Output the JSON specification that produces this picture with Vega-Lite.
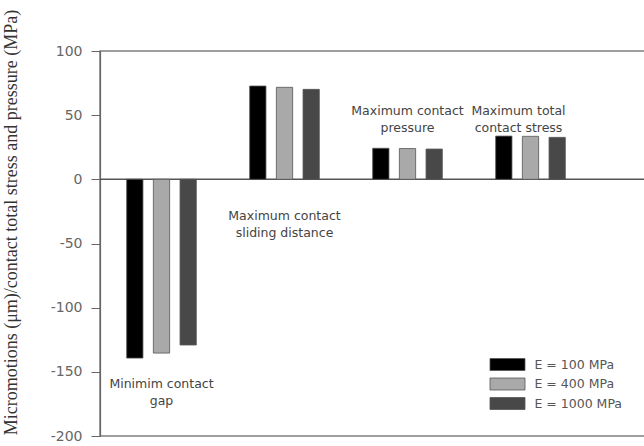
{
  "$schema": "https://vega.github.io/schema/vega-lite/v6.json",
  "width": 560,
  "height": 385,
  "autosize": {"type": "none"},
  "padding": {"left": 100, "top": 51, "right": 0, "bottom": 10},
  "background": "white",
  "config": {"view": {"stroke": "#808080", "strokeWidth": 1.5}, "font": "DejaVu Sans"},
  "datasets": {
    "bars": [
      {"measure": "Minimim contact gap", "E": "E = 100 MPa", "value": -139.3},
      {"measure": "Minimim contact gap", "E": "E = 400 MPa", "value": -135.4},
      {"measure": "Minimim contact gap", "E": "E = 1000 MPa", "value": -129.1},
      {"measure": "Maximum contact sliding distance", "E": "E = 100 MPa", "value": 72.7},
      {"measure": "Maximum contact sliding distance", "E": "E = 400 MPa", "value": 71.7},
      {"measure": "Maximum contact sliding distance", "E": "E = 1000 MPa", "value": 70.1},
      {"measure": "Maximum contact pressure", "E": "E = 100 MPa", "value": 24.2},
      {"measure": "Maximum contact pressure", "E": "E = 400 MPa", "value": 24.0},
      {"measure": "Maximum contact pressure", "E": "E = 1000 MPa", "value": 23.6},
      {"measure": "Maximum total contact stress", "E": "E = 100 MPa", "value": 33.7},
      {"measure": "Maximum total contact stress", "E": "E = 400 MPa", "value": 33.5},
      {"measure": "Maximum total contact stress", "E": "E = 1000 MPa", "value": 32.7}
    ],
    "labels": [
      {"measure": "Minimim contact gap", "label": "Minimim contact\ngap", "at": -159.2},
      {"measure": "Maximum contact sliding distance", "label": "Maximum contact\nsliding distance", "at": -28.7},
      {"measure": "Maximum contact pressure", "label": "Maximum contact\npressure", "at": 53.2},
      {"measure": "Maximum total contact stress", "label": "Maximum total\ncontact stress", "at": 53.2}
    ]
  },
  "layer": [
    {
      "data": {"values": [{"y": 0}]},
      "mark": {"type": "rule", "color": "#555", "strokeWidth": 1.5},
      "encoding": {"y": {"field": "y", "type": "quantitative"}}
    },
    {
      "data": {"name": "bars"},
      "mark": {"type": "bar", "stroke": "#555", "strokeWidth": 0.8},
      "encoding": {
        "x": {
          "field": "measure", "type": "nominal",
          "sort": ["Minimim contact gap", "Maximum contact sliding distance", "Maximum contact pressure", "Maximum total contact stress"],
          "scale": {"range": [0, 492], "paddingInner": 0, "paddingOuter": 0},
          "axis": null
        },
        "xOffset": {
          "field": "E", "type": "nominal",
          "sort": ["E = 100 MPa", "E = 400 MPa", "E = 1000 MPa"],
          "scale": {"paddingInner": 0.39, "paddingOuter": 1}
        },
        "y": {
          "field": "value", "type": "quantitative",
          "scale": {"domain": [-200, 100], "nice": false, "zero": false},
          "axis": {
            "values": [-200, -150, -100, -50, 0, 50, 100],
            "labelExpr": "replace(datum.label, '−', '-')",
            "tickSize": 9, "tickColor": "#666", "domainColor": "#666", "domainWidth": 1.2,
            "labelFont": "DejaVu Sans", "labelFontSize": 14, "labelColor": "#666", "labelPadding": 9,
            "grid": false,
            "title": "Micromotions (μm)/contact total stress and pressure (MPa)",
            "titleFont": "Liberation Serif", "titleFontSize": 18, "titleFontWeight": "normal", "titleColor": "#333",
            "titleX": -89, "titleY": 171, "titleAngle": -90, "titleAlign": "center", "titleBaseline": "middle"
          }
        },
        "color": {
          "field": "E", "type": "nominal",
          "scale": {"domain": ["E = 100 MPa", "E = 400 MPa", "E = 1000 MPa"], "range": ["#000000", "#a9a9a9", "#484848"]},
          "legend": {
            "title": null, "orient": "none", "legendX": 401, "legendY": 307,
            "symbolType": "M-2.917,-1H2.917V1H-2.917Z", "symbolSize": 144,
            "symbolStrokeColor": "#555", "symbolStrokeWidth": 0.8, "symbolOpacity": 1,
            "labelFont": "DejaVu Sans", "labelFontSize": 12.5, "labelColor": "#555",
            "labelOffset": 20.5, "rowPadding": 2.5, "padding": 0
          }
        }
      }
    },
    {
      "data": {"name": "labels"},
      "transform": [{"filter": "datum.measure != 'Maximum total contact stress'"}],
      "mark": {"type": "text", "lineBreak": "\n", "fontSize": 12.5, "color": "#444", "baseline": "middle", "lineHeight": 17},
      "encoding": {
        "x": {"field": "measure", "type": "nominal", "sort": ["Minimim contact gap", "Maximum contact sliding distance", "Maximum contact pressure", "Maximum total contact stress"]},
        "y": {"field": "at", "type": "quantitative"},
        "text": {"field": "label"}
      }
    },
    {
      "data": {"name": "labels"},
      "transform": [{"filter": "datum.measure == 'Maximum total contact stress'"}],
      "mark": {"type": "text", "lineBreak": "\n", "fontSize": 12.5, "color": "#444", "baseline": "middle", "lineHeight": 17, "dx": -12},
      "encoding": {
        "x": {"field": "measure", "type": "nominal", "sort": ["Minimim contact gap", "Maximum contact sliding distance", "Maximum contact pressure", "Maximum total contact stress"]},
        "y": {"field": "at", "type": "quantitative"},
        "text": {"field": "label"}
      }
    }
  ]
}
